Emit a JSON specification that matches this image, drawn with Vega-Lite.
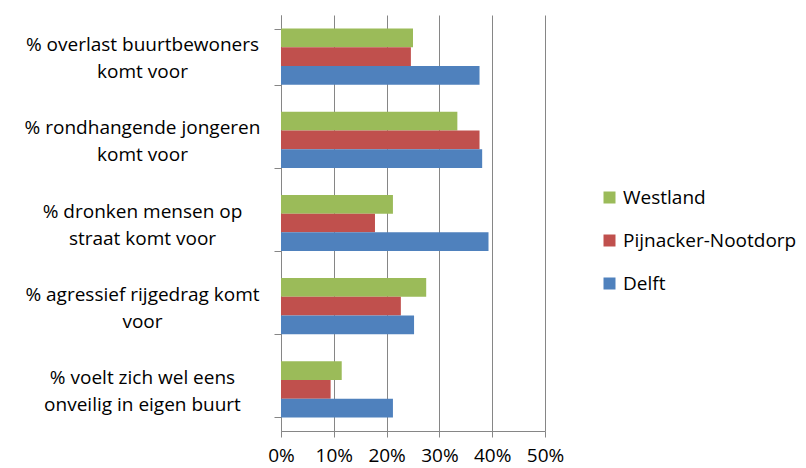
{
  "$schema": "https://vega.github.io/schema/vega-lite/v6.json",
  "width": 264,
  "height": 416,
  "autosize": {"type": "none"},
  "padding": {"left": 281, "top": 15, "right": 261, "bottom": 37},
  "background": "white",
  "config": {"font": "Open Sans", "view": {"stroke": null}},
  "data": {
    "values": [
      {"category": "% overlast buurtbewoners\nkomt voor", "region": "Westland", "value": 0.250},
      {"category": "% overlast buurtbewoners\nkomt voor", "region": "Pijnacker-Nootdorp", "value": 0.246},
      {"category": "% overlast buurtbewoners\nkomt voor", "region": "Delft", "value": 0.376},
      {"category": "% rondhangende jongeren\nkomt voor", "region": "Westland", "value": 0.334},
      {"category": "% rondhangende jongeren\nkomt voor", "region": "Pijnacker-Nootdorp", "value": 0.376},
      {"category": "% rondhangende jongeren\nkomt voor", "region": "Delft", "value": 0.381},
      {"category": "% dronken mensen op\nstraat komt voor", "region": "Westland", "value": 0.212},
      {"category": "% dronken mensen op\nstraat komt voor", "region": "Pijnacker-Nootdorp", "value": 0.178},
      {"category": "% dronken mensen op\nstraat komt voor", "region": "Delft", "value": 0.393},
      {"category": "% agressief rijgedrag komt\nvoor", "region": "Westland", "value": 0.275},
      {"category": "% agressief rijgedrag komt\nvoor", "region": "Pijnacker-Nootdorp", "value": 0.227},
      {"category": "% agressief rijgedrag komt\nvoor", "region": "Delft", "value": 0.252},
      {"category": "% voelt zich wel eens\nonveilig in eigen buurt", "region": "Westland", "value": 0.115},
      {"category": "% voelt zich wel eens\nonveilig in eigen buurt", "region": "Pijnacker-Nootdorp", "value": 0.094},
      {"category": "% voelt zich wel eens\nonveilig in eigen buurt", "region": "Delft", "value": 0.212}
    ]
  },
  "mark": {"type": "bar"},
  "encoding": {
    "y": {
      "field": "category",
      "type": "nominal",
      "sort": null,
      "scale": {"paddingInner": 0.325, "paddingOuter": 0.1625},
      "axis": {
        "title": null,
        "labelExpr": "split(datum.label, '\\n')",
        "labelFontSize": 19,
        "labelColor": "#000000",
        "labelAlign": "center",
        "labelPadding": 132,
        "labelOffset": -12,
        "labelLineHeight": 27,
        "labelLimit": 400,
        "tickBand": "extent",
        "tickSize": 7,
        "tickColor": "#868686",
        "domainColor": "#868686"
      }
    },
    "yOffset": {"field": "region", "sort": ["Westland", "Pijnacker-Nootdorp", "Delft"]},
    "x": {
      "field": "value",
      "type": "quantitative",
      "scale": {"domain": [0, 0.5]},
      "axis": {
        "format": ".0%",
        "values": [0, 0.1, 0.2, 0.3, 0.4, 0.5],
        "grid": true,
        "gridColor": "#868686",
        "title": null,
        "labelFontSize": 19,
        "labelColor": "#000000",
        "labelOverlap": false,
        "labelFlush": false,
        "tickSize": 6,
        "tickColor": "#868686",
        "domainColor": "#868686",
        "labelPadding": 9
      }
    },
    "color": {
      "field": "region",
      "type": "nominal",
      "scale": {"domain": ["Westland", "Pijnacker-Nootdorp", "Delft"], "range": ["#9BBB59", "#C0504D", "#4F81BD"]},
      "legend": {
        "title": null,
        "orient": "none",
        "legendX": 319,
        "legendY": 173,
        "labelFontSize": 19,
        "labelLimit": 300,
        "labelColor": "#000000",
        "symbolType": "square",
        "symbolSize": 144,
        "symbolStrokeWidth": 0,
        "rowPadding": 23
      }
    }
  }
}
